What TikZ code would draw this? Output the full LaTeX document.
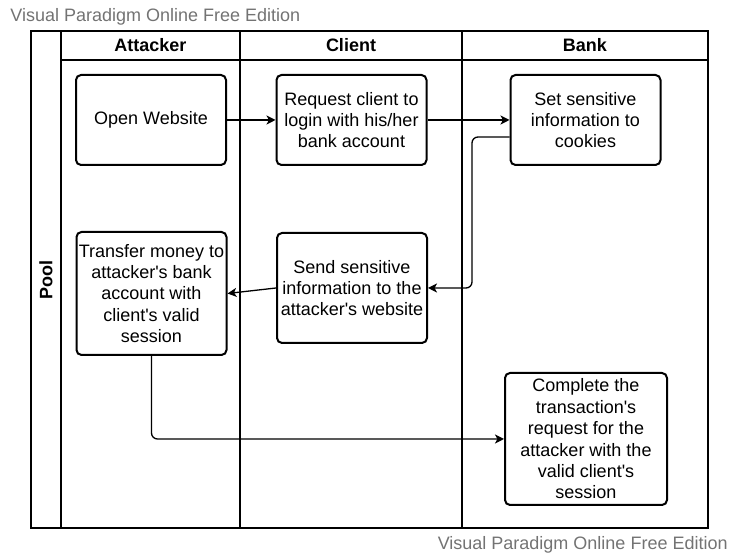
\documentclass[tikz,border=0pt]{standalone}
\usepackage{fontspec}
\setmainfont{Liberation Sans}[Ligatures=TeXOff]
\usepackage{xcolor}
\usepackage{tikz}
\usetikzlibrary{arrows.meta, positioning}

\begin{document}
\begin{tikzpicture}[
  x=0.5pt, y=-0.5pt,
  font=\fontsize{9}{10.7}\selectfont,
  every node/.style={align=center, inner sep=1pt},
  task/.style     ={rectangle, rounded corners=2.5pt, draw=black, line width=1pt, minimum width=75pt, minimum height=45pt},
  lanehead/.style ={font=\fontsize{9}{10.7}\selectfont\bfseries},
  frame/.style    ={draw=black, line width=0.75pt},
  watermark/.style={text=black!55},
  arr/.style      ={-{Stealth[length=4.5pt, width=4.5pt, inset=1.2pt]}, draw=black, line width=0.65pt, rounded corners=3pt}
]
\useasboundingbox (0,0) rectangle (740,560);

% Watermarks
\node[watermark, anchor=west] (wmtop) at (8,17)    {Visual Paradigm Online Free Edition};
\node[watermark, anchor=east] (wmbot) at (730,545) {Visual Paradigm Online Free Edition};

% Pool frame: label column, header row, lane dividers
\draw[frame] (31,31) rectangle (708,528);
\draw[frame] (61,31) -- (61,528);
\draw[frame] (61,60) -- (708,60);
\draw[frame] (240,31) -- (240,528);
\draw[frame] (462,31) -- (462,528);

\node[lanehead, rotate=90] (pool) at (46,280) {Pool};
\node[lanehead] (attacker) at (150.5,45.5) {Attacker};
\node[lanehead] (client)   at (351,45.5)   {Client};
\node[lanehead] (bank)     at (585,45.5)   {Bank};

% Row 1 (y = 120)
\node[task] (open)    at (151,120)   {Open Website};
\node[task] (request) at (351.5,120) {Request client to\\login with his/her\\bank account};
\node[task] (cookies) at (585.5,120) {Set sensitive\\information to\\cookies};

% Row 2 (y = 290)
\node[task, minimum height=61.5pt] (transfer) at (151.5,293.5) {Transfer money to\\attacker's bank\\account with\\client's valid\\session};
\node[task, minimum height=55pt]   (send)     at (352,288)     {Send sensitive\\information to the\\attacker's website};

% Row 3 (y = 439)
\node[task, minimum width=81pt, minimum height=66pt] (complete) at (586,439) {Complete the\\transaction's\\request for the\\attacker with the\\valid client's\\session};

% Edges
\coordinate (bend) at (472,137);
\draw[arr] (open) -- (request);
\draw[arr] (request) -- (cookies);
\draw[arr] (cookies.west |- bend) -- (bend) |- (send.east);
\draw[arr] (send.west) -- (transfer.east);
\draw[arr] (transfer.south) |- (complete.west);
\end{tikzpicture}
\end{document}
